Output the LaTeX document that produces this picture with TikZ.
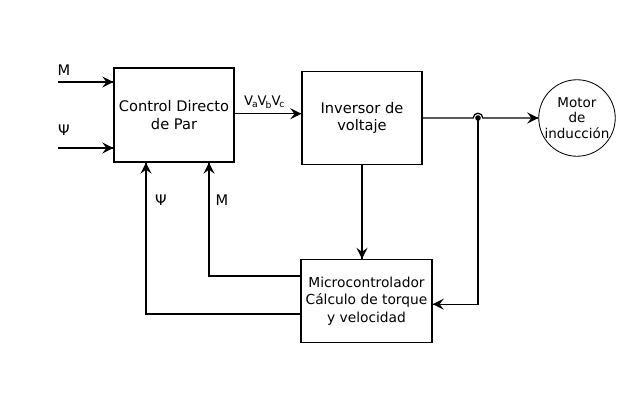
\documentclass[tikz,border=0pt]{standalone}
\usepackage{fontspec}
\setmainfont{DejaVu Sans}
\usetikzlibrary{calc,decorations.markings}
\tikzset{->/.style = {decoration={markings, mark=at position 1 with {\arrow[scale=1.8]{stealth}}}, postaction={decorate}}}
\tikzset{block/.style = {draw, line width=0.9pt, align=center, font=\fontsize{10.4}{12.5}\selectfont}}

\begin{document}
\begin{tikzpicture}[x=0.025cm, y=-0.025cm, line width=0.9pt, font=\fontsize{10.4}{12.5}\selectfont]
\useasboundingbox (0,0) rectangle (640,400);
\node[block, minimum width=3cm, minimum height=2.35cm] (ctrl) at (174,115) {Control Directo\\de Par};
\node[block, minimum width=3cm, minimum height=2.325cm] (inv) at (362,118) {Inversor de\\voltaje};
\node[block, minimum width=3.275cm, minimum height=2.075cm, inner xsep=1pt, font=\fontsize{9.8}{12.5}\selectfont] (micro) at (366.5,301) {Microcontrolador\\Cálculo de torque\\y velocidad};
\node[block, circle, line width=0.6pt, minimum size=1.85cm, inner sep=0pt, font=\fontsize{9.6}{11}\selectfont] (motor) at (577,118) {Motor\\de\\inducción};
\coordinate (inM) at (58,82);
\coordinate (inP) at (58,148);
\coordinate (jn) at (478,118);
\draw [->] (inM) -- (inM -| ctrl.west);
\draw [->] (inP) -- (inP -| ctrl.west);
\node (lM) at (64,70) {M};
\node (lP) at (64,130) {Ψ};
\draw [->] ([yshift=0.03cm]ctrl.east) -- ([yshift=0.03cm]ctrl.east -| inv.west) node [pos=0.45, above, font=\fontsize{9.4}{10}\selectfont] {V\kern-0.8pt\textsubscript{a}\kern-0.5pt V\kern-0.8pt\textsubscript{b}\kern-0.5pt V\kern-0.8pt\textsubscript{c}};
\draw [->] (inv.east) -- ([xshift=-0.12cm]jn) arc [start angle=180, end angle=0, radius=0.12cm] -- (jn -| motor.west);
\fill (jn) circle [radius=0.07cm];
\draw [->] (jn) |- ([yshift=-0.08cm]micro.east);
\draw [->] (inv.south) -- (inv.south |- micro.north);
\draw [->] ([yshift=0.625cm]micro.west) -| ([xshift=0.875cm]ctrl.south);
\draw [->] ([yshift=-0.325cm]micro.west) -| ([xshift=-0.7cm]ctrl.south);
\node (fP) at (161,200) {Ψ};
\node (fM) at (222,200) {M};
\end{tikzpicture}
\end{document}
